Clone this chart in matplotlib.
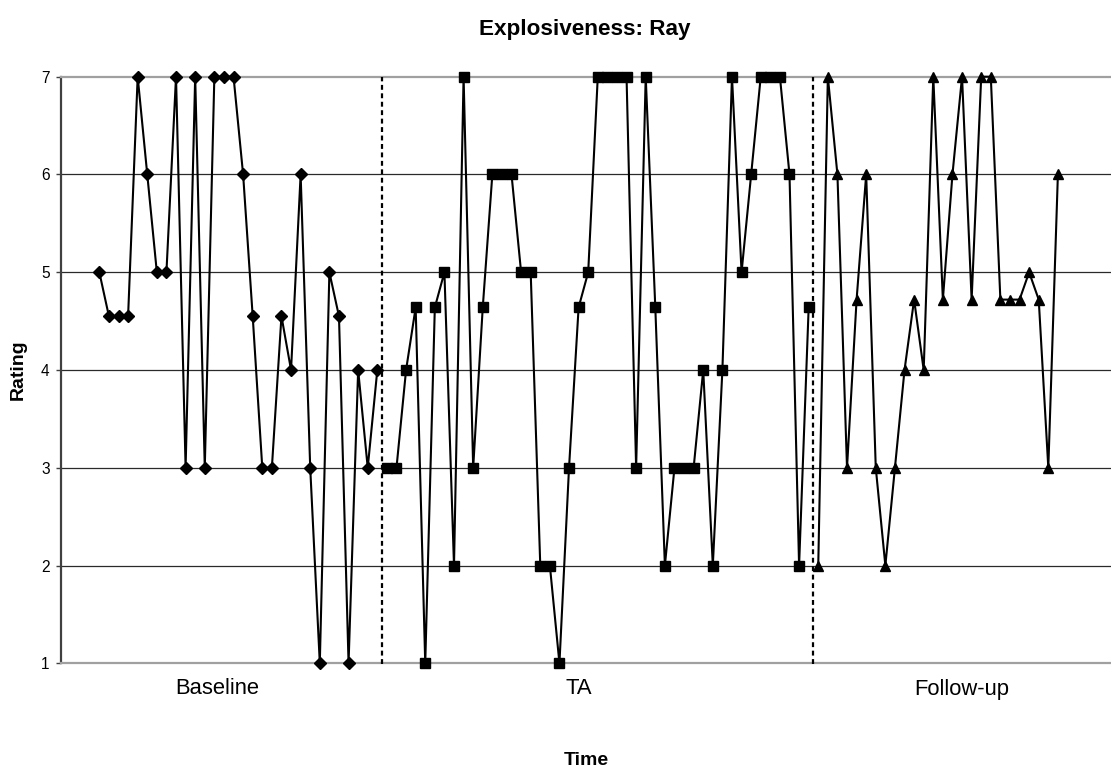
import numpy as np
import matplotlib
matplotlib.use("Agg")
import matplotlib.pyplot as plt
from matplotlib.transforms import blended_transform_factory

plt.rcParams['font.family'] = ['Liberation Sans', 'DejaVu Sans']

# Ratings per session, by phase
baseline = [5, 4.55, 4.55, 4.55, 7, 6, 5, 5, 7, 3, 7, 3, 7, 7, 7, 6, 4.55, 3, 3,
            4.55, 4, 6, 3, 1, 5, 4.55, 1, 4, 3, 4]
ta = [3, 3, 4, 4.64, 1, 4.64, 5, 2, 7, 3, 4.64, 6, 6, 6, 5, 5, 2, 2, 1, 3, 4.64,
      5, 7, 7, 7, 7, 3, 7, 4.64, 2, 3, 3, 3, 4, 2, 4, 7, 5, 6, 7, 7, 7, 6, 2, 4.64]
follow_up = [2, 7, 6, 3, 4.72, 6, 3, 2, 3, 4, 4.72, 4, 7, 4.72, 6, 7, 4.72, 7, 7,
             4.72, 4.72, 4.72, 5, 4.72, 3, 6]

phase_names = ["Baseline", "TA", "Follow-up"]
phase_label_pos = [13.25, 51.0, 91.0]
y_ticks = [1, 2, 3, 4, 5, 6, 7]

W, H, DPI = 1111, 770, 100
fig = plt.figure(figsize=(W / DPI, H / DPI), dpi=DPI)
fig.patch.set_facecolor("white")

# plot area in pixels: left 60.7, top 76.7, bottom 663.3, runs past the right edge
left_px, top_px, bot_px = 60.7, 76.7, 663.3
ax = fig.add_axes([left_px / W, (H - bot_px) / H, (W - left_px) / W, (bot_px - top_px) / H])

n_b, n_t, n_f = len(baseline), len(ta), len(follow_up)
x_b = np.arange(1, n_b + 1)
x_t = np.arange(n_b + 1, n_b + n_t + 1)
x_f = np.arange(n_b + n_t + 1, n_b + n_t + n_f + 1)

line_kw = dict(color="black", lw=1.5, markerfacecolor="black", markeredgecolor="black",
               clip_on=False, zorder=5)
ax.plot(x_b, baseline, marker="D", ms=6.4, **line_kw)
ax.plot(x_t, ta, marker="s", ms=7.3, **line_kw)
ax.plot(x_f, follow_up, marker="^", ms=7.8, **line_kw)

# phase change lines
for xc in (n_b + 0.5, n_b + n_t + 0.5):
    ax.plot([xc, xc], [0.99, 7], color="black", lw=1.6, ls=(0, (2.2, 1.6)),
            solid_capstyle="butt", dash_capstyle="butt", clip_on=False, zorder=4)

ax.set_xlim(-3.03, 106.54)
ax.set_ylim(1, 7)
ax.set_yticks(y_ticks)
ax.set_yticklabels([str(v) for v in y_ticks], fontsize=11.2)
ax.set_xticks([])
ax.tick_params(axis="y", direction="out", length=3.4, width=1, color="#404040", pad=4.5)

for yv in y_ticks[1:-1]:
    ax.axhline(yv, color="#2a2a2a", lw=0.9, zorder=0)

ax.spines["right"].set_visible(False)
ax.spines["left"].set_color("#404040")
ax.spines["left"].set_linewidth(1.6)
for s in ("top", "bottom"):
    ax.spines[s].set_color("#a0a0a0")
    ax.spines[s].set_linewidth(1.6)

trans = blended_transform_factory(ax.transData, fig.transFigure)
for name, xp in zip(phase_names, phase_label_pos):
    ax.text(xp, 1 - 689 / H, name, transform=trans, ha="center", va="center",
            fontsize=15.8)

fig.text(584.6 / W, 1 - 35 / H, "Explosiveness: Ray", ha="center", va="baseline",
         fontsize=16.2, fontweight="bold")
fig.text(586.7 / W, 1 - 765 / H, "Time", ha="center", va="baseline",
         fontsize=14, fontweight="bold")
fig.text(18 / W, 1 - 370 / H, "Rating", ha="center", va="center", rotation=90,
         fontsize=14, fontweight="bold")

fig.savefig("out.png", dpi=DPI, facecolor="white")
